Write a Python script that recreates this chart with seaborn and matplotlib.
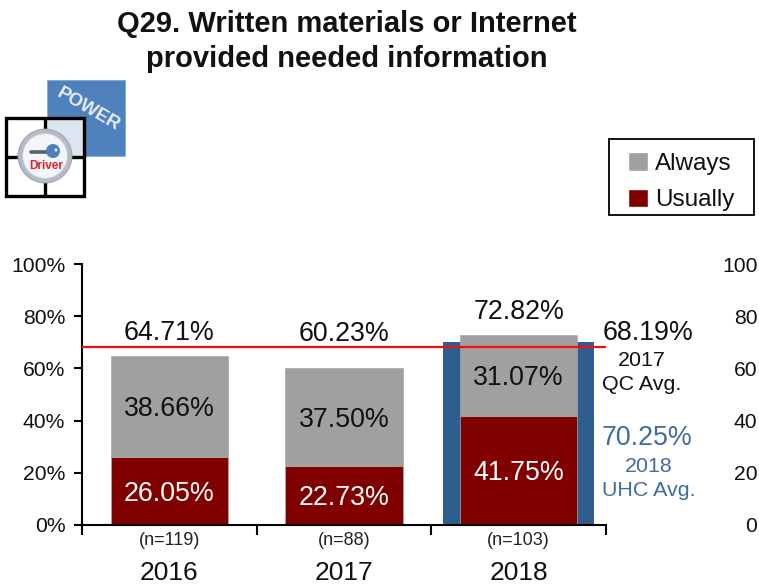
import matplotlib
matplotlib.use("Agg")
import matplotlib.pyplot as plt
from matplotlib.patches import Circle, Rectangle, Patch
import pandas as pd
import seaborn as sns

sns.set_theme(style="white")
plt.rcParams["font.family"] = ["Liberation Sans", "DejaVu Sans"]

years = ["2016", "2017", "2018"]
sample_sizes = ["(n=119)", "(n=88)", "(n=103)"]
usually = [26.05, 22.73, 41.75]
always = [38.66, 37.50, 31.07]
totals = [64.71, 60.23, 72.82]
uhc_avg = [None, None, 70.25]
qc_avg = 68.19
y_ticks = [0, 20, 40, 60, 80, 100]

GREY = "#A0A0A0"
DARK_RED = "#800000"
BLUE = "#2E5E8E"
BLUE_TEXT = "#3F6C9E"
RED_LINE = "#F01010"

W, H = 759, 586
fig = plt.figure(figsize=(W / 100, H / 100), dpi=100, facecolor="white")
ax = fig.add_axes([82 / W, 1 - 525 / H, 524 / W, 261 / H])

df = pd.DataFrame({"year": years, "usually": usually, "always": always,
                   "uhc": [float("nan") if v is None else v for v in uhc_avg]})

# Benchmark bar sits behind the stacked survey bars
sns.barplot(data=df, x="year", y="uhc", color=BLUE, width=0.865, saturation=1, ax=ax,
            linewidth=0)
sns.barplot(data=df, x="year", y="usually", color=DARK_RED, width=0.67, saturation=1, ax=ax,
            edgecolor="#A8A8A8", linewidth=0.5)
sns.barplot(data=df, x="year", y="always", bottom=df["usually"], color=GREY, width=0.67,
            saturation=1, ax=ax, edgecolor="#A8A8A8", linewidth=0.5)

ax.set_xlim(-0.5, 2.5)
ax.set_ylim(0, 100)
ax.set_xlabel("")
ax.set_ylabel("")
ax.axhline(qc_avg, color=RED_LINE, lw=1.6, zorder=5)

for side in ("top", "right"):
    ax.spines[side].set_visible(False)
for side in ("left", "bottom"):
    ax.spines[side].set_linewidth(1.5)
    ax.spines[side].set_color("black")

ax.set_yticks(y_ticks, [f"{v}%" for v in y_ticks])
ax.tick_params(axis="y", length=6, width=1.5, color="black", labelsize=15.2, pad=6,
               left=True, labelcolor="#111111")
# Ticks mark category boundaries; years are centred between them
ax.set_xticks([-0.5, 0.5, 1.5, 2.5], ["", "", "", ""])
ax.tick_params(axis="x", which="major", length=7, width=1.5, color="black", bottom=True)
ax.set_xticks([0, 1, 2], years, minor=True)
ax.tick_params(axis="x", which="minor", length=0, labelsize=19, pad=26, labelcolor="#111111")


def centred(x, y, text, color="#111111"):
    """Value label nudged down so the digits sit optically centred on y."""
    ax.annotate(text, xy=(x, y), xytext=(0, -2), textcoords="offset points", color=color,
                fontsize=19.3, ha="center", va="center", zorder=6)


for i, (u, a, t, n) in enumerate(zip(usually, always, totals, sample_sizes)):
    centred(i, u / 2, f"{u:.2f}%", color="white")
    centred(i, u + a / 2, f"{a:.2f}%")
    # Totals stay clear of the reference line
    centred(i, max(t + 10, qc_avg + 6), f"{t:.2f}%")
    ax.annotate(n, xy=(i, 0), xycoords=("data", "axes fraction"), xytext=(0, -11.5),
                textcoords="offset points", fontsize=13, color="#222222",
                ha="center", va="center")

# Secondary scale on the right has labels only
right = ax.twinx()
right.set_ylim(0, 100)
right.set_yticks(y_ticks, [str(v) for v in y_ticks])
right.tick_params(axis="y", length=0, labelsize=15.2, pad=109, right=True, labelcolor="#111111")
for label in right.get_yticklabels():
    label.set_ha("right")
for spine in right.spines.values():
    spine.set_visible(False)
right.grid(False)
ax.grid(False)

# Full-figure overlay in pixel units for the title, side notes and badge
ov = fig.add_axes([0, 0, 1, 1], facecolor="none")
ov.set_xlim(0, W)
ov.set_ylim(H, 0)
ov.axis("off")

ov.text(347, 24, "Q29. Written materials or Internet", fontsize=21, fontweight="bold",
        ha="center", va="center", color="#111111")
ov.text(347, 59, "provided needed information", fontsize=21, fontweight="bold",
        ha="center", va="center", color="#111111")

ov.text(648, 333, f"{qc_avg:.2f}%", fontsize=19.3, ha="center", va="center", color="#111111")
ov.text(642, 361, "2017", fontsize=15.4, ha="center", va="center", color="#111111")
ov.text(642, 385, "QC Avg.", fontsize=15.4, ha="center", va="center", color="#111111")
ov.text(647, 438, f"{uhc_avg[2]:.2f}%", fontsize=19.3, ha="center", va="center", color=BLUE_TEXT)
ov.text(649, 467, "2018", fontsize=15.4, ha="center", va="center", color=BLUE_TEXT)
ov.text(649, 491, "UHC Avg.", fontsize=15.4, ha="center", va="center", color=BLUE_TEXT)

# Legend entries inside a hand-sized frame
ov.add_patch(Rectangle((609, 139), 145, 76, facecolor="white", edgecolor="black", lw=1.3))
leg = ov.legend(handles=[Patch(facecolor=GREY, label="Always"),
                         Patch(facecolor=DARK_RED, label="Usually")],
                loc="upper left", bbox_to_anchor=(628 / W, 1 - 152 / H),
                bbox_transform=fig.transFigure, fontsize=17.5, frameon=False,
                handlelength=0.82, handleheight=0.82,
                handletextpad=0.3, labelspacing=0.56, borderpad=0, borderaxespad=0,
                labelcolor="#111111")

# POWER Driver badge
ov.add_patch(Rectangle((47, 80), 78, 76, facecolor="#4F81BD", edgecolor="#7FA3CF", lw=0.5))
ov.text(88, 110, "POWER", color="#E8EEF6", fontsize=13.3, fontweight="bold", rotation=-30,
        ha="center", va="center", rotation_mode="anchor")
ov.add_patch(Rectangle((6, 118), 78, 78, facecolor="white", edgecolor="none"))
ov.add_patch(Rectangle((45, 118), 39, 39, facecolor="#DCE6F1", edgecolor="none"))
ov.add_patch(Rectangle((6, 118), 78, 78, facecolor="none", edgecolor="black", lw=2.4))
ov.plot([45, 45], [118, 196], color="black", lw=2.4, solid_capstyle="butt", zorder=2)
ov.plot([6, 84], [157, 157], color="black", lw=2.4, solid_capstyle="butt", zorder=2)
ov.add_patch(Circle((45, 156), 27, facecolor="#B4BAC6", edgecolor="#9AA0AC", lw=0.6, zorder=3))
ov.add_patch(Circle((45, 156), 22.5, facecolor="#F4F5F8", edgecolor="#C8CCD4", lw=0.8, zorder=3))
ov.plot([31, 49], [152, 152], color="#55606E", lw=2.6, solid_capstyle="round", zorder=4)
ov.add_patch(Circle((53, 151), 7, facecolor="#4F7FBE", edgecolor="none", zorder=4))
ov.add_patch(Circle((56, 150), 1.5, facecolor="#EAF0F8", edgecolor="none", zorder=5))
ov.text(46, 166, "Driver", color="#E0202A", fontsize=8.5, fontweight="bold",
        ha="center", va="center", zorder=5)

fig.savefig("out.png", dpi=100)
